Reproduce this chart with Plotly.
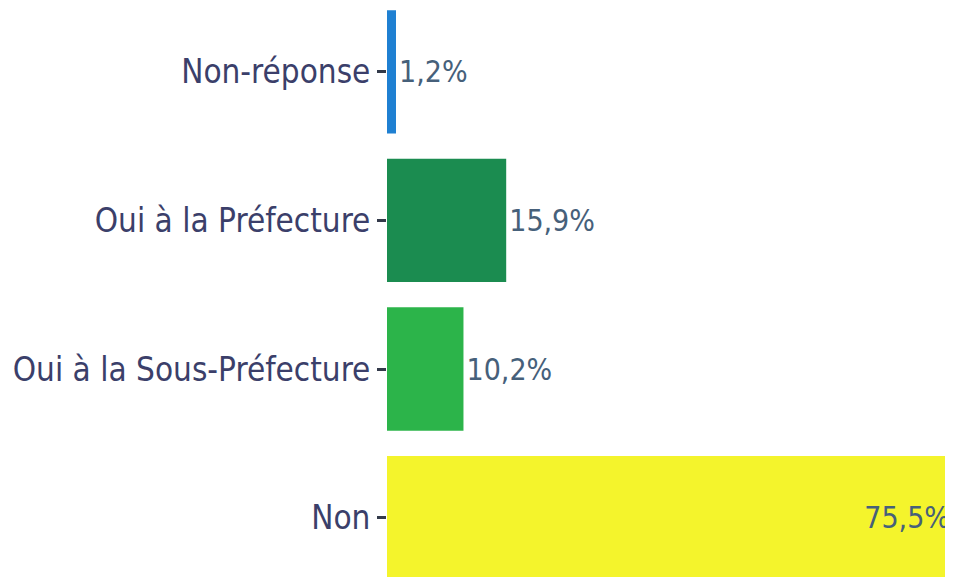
import plotly.graph_objects as go

# Data
categories = ["Non", "Oui à la Sous-Préfecture", "Oui à la Préfecture", "Non-réponse"]
values = [75.5, 10.2, 15.9, 1.2]
value_labels = ["75,5%", "10,2%", "15,9%", "1,2%"]

# Colours
BAR_COLORS = ["#f4f42c", "#2cb44a", "#1b8c50", "#1f80d2"]
LABEL_COLOR = "#3b3f6a"
VALUE_COLOR = "#46607a"
FONT = "DejaVu Sans Condensed, Roboto, sans-serif"

fig = go.Figure()

fig.add_trace(go.Bar(
    x=values,
    y=list(range(len(categories))),
    orientation="h",
    marker=dict(color=BAR_COLORS, line=dict(width=0)),
    text=value_labels,
    textposition=["inside", "outside", "outside", "outside"],
    insidetextanchor="end",
    textfont=dict(family=FONT, size=30, color=VALUE_COLOR),
    cliponaxis=False,
    width=0.83,
    hoverinfo="skip",
))

fig.update_xaxes(
    range=[0, 75.5],
    visible=False,
    automargin=False,
)
fig.update_yaxes(
    range=[-0.40, 3.43],
    tickmode="array",
    tickvals=list(range(len(categories))),
    ticktext=categories,
    ticks="outside",
    ticklen=9,
    tickwidth=3,
    tickcolor="#333a4a",
    showline=False,
    showgrid=False,
    zeroline=False,
    automargin=False,
    tickfont=dict(family=FONT, size=33, color=LABEL_COLOR),
)

fig.update_layout(
    width=945,
    height=569,
    margin=dict(l=379, r=0, t=0, b=0),
    paper_bgcolor="white",
    plot_bgcolor="white",
    showlegend=False,
)

fig.write_html("out.html")
